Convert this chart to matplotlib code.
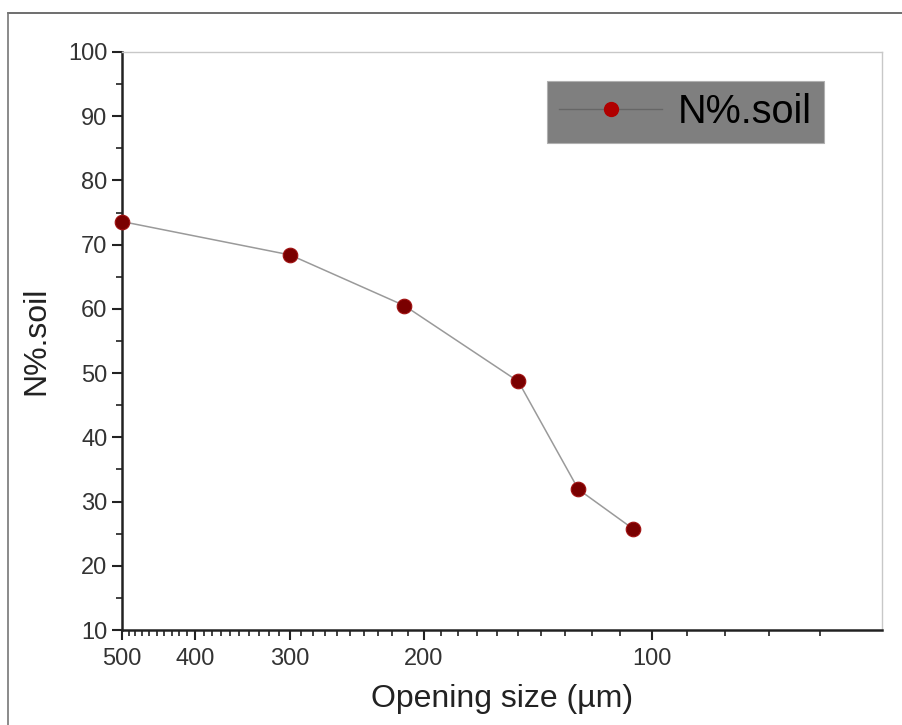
import matplotlib.pyplot as plt
import numpy as np
from matplotlib.lines import Line2D
from matplotlib.ticker import FixedLocator, NullFormatter

plt.rcParams['font.family'] = ['Liberation Sans', 'DejaVu Sans']

# sieve opening size (um) and nitrogen content
opening = [500, 300, 212, 150, 125, 106]
n_soil = [73.6, 68.4, 60.5, 48.7, 31.9, 25.8]

x_major = [500, 400, 300, 200, 100]
x_minor = list(range(490, 50, -10))
y_major = list(range(10, 101, 10))

fig = plt.figure(figsize=(9.02, 7.25), dpi=100)
ax = fig.add_axes([0.1353, 0.131, 0.8425, 0.7973])

ax.plot(opening, n_soil, '-', color='#9a9a9a', linewidth=1.1, zorder=2)
ax.plot(opening, n_soil, 'o', color='#7a0000', markersize=10.5,
        markeredgecolor='#a01010', markeredgewidth=0.8, zorder=3,
        clip_on=False)

ax.set_xscale('log')
ax.set_xlim(500, 49.7)
ax.set_ylim(10, 100)

ax.xaxis.set_major_locator(FixedLocator(x_major))
ax.xaxis.set_minor_locator(FixedLocator(x_minor))
ax.set_xticklabels([str(v) for v in x_major])
ax.xaxis.set_minor_formatter(NullFormatter())
ax.set_yticks(y_major)
ax.set_yticks(list(range(15, 100, 10)), minor=True)

ax.tick_params(axis='both', which='major', length=7, width=1.5,
               labelsize=17, color='#222222', labelcolor='#333333')
ax.tick_params(axis='both', which='minor', length=4, width=1.3,
               color='#333333')
ax.tick_params(axis='x', pad=6)

for s in ['left', 'bottom']:
    ax.spines[s].set_linewidth(1.8)
    ax.spines[s].set_color('#222222')
for s in ['top', 'right']:
    ax.spines[s].set_linewidth(1.0)
    ax.spines[s].set_color('#c8c8c8')

ax.set_xlabel('Opening size (µm)', fontsize=23, color='#222222', labelpad=10)
ax.set_ylabel('N%.soil', fontsize=23, color='#222222', labelpad=12)

handle = Line2D([0], [0], color='#666666', linewidth=1.0, marker='o',
                markersize=10, markerfacecolor='#b00000',
                markeredgecolor='#b00000')
leg = ax.legend([handle], ['N%.soil'], loc='upper right',
                bbox_to_anchor=(0.9235, 0.95), fontsize=28.5, frameon=True,
                fancybox=False, handlelength=2.6, handletextpad=0.4,
                borderpad=0.3, borderaxespad=0)
leg.get_frame().set_facecolor('#7f7f7f')
leg.get_frame().set_edgecolor('#b0b0b0')
leg.get_frame().set_alpha(1)
leg.get_frame().set_linewidth(0.8)

# outer border of the figure
fig.add_artist(Line2D([8 / 902, 1], [1 - 13 / 725, 1 - 13 / 725],
                      color='#555555', linewidth=1.2))
fig.add_artist(Line2D([8 / 902, 8 / 902], [0, 1 - 13 / 725],
                      color='#777777', linewidth=1.2))

plt.savefig('out.png', dpi=100)
